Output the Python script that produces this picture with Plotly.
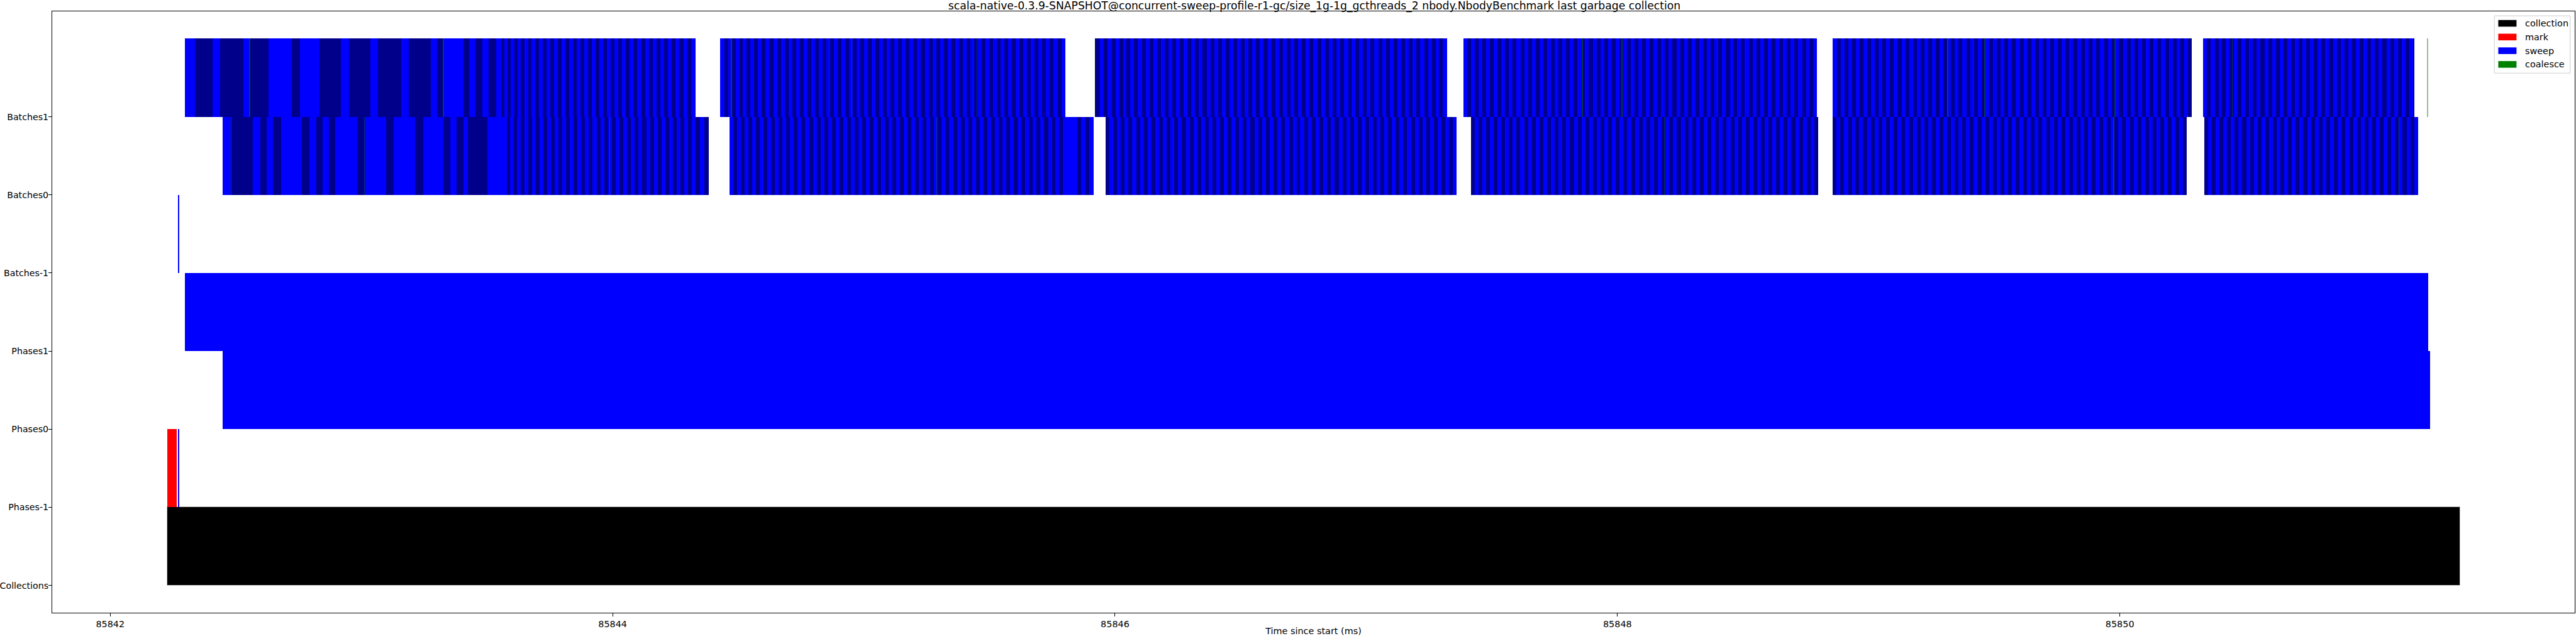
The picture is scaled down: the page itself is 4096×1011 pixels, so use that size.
import plotly.graph_objects as go

# ---------------- data ----------------
row_labels = ["Collections", "Phases-1", "Phases0", "Phases1", "Batches-1", "Batches0", "Batches1"]
x_tick_values = [85842, 85844, 85846, 85848, 85850]
title_text = ("scala-native-0.3.9-SNAPSHOT@concurrent-sweep-profile-r1-gc/size_1g-1g_gcthreads_2 "
              "nbody.NbodyBenchmark last garbage collection")

collection_start = [85842.226]
collection_dur = [9.130]

mark_start = [85842.227]
mark_dur = [0.037]

# sweep phases (row index, start ms, duration ms)
sweep_phase_row = [1, 4, 2, 3]
sweep_phase_start = [85842.2712, 85842.2712, 85842.448, 85842.2985]
sweep_phase_dur = [0.0022, 0.0022, 8.788, 8.9285]

# Batches1 row: group starts, colour of the first batch, batch durations (microseconds)
b1_group_start = [85842.2980, 85844.4282, 85845.9197, 85847.3864, 85848.8571, 85850.3317]
b1_group_first = ["blue", "blue", "navy", "blue", "blue", "blue"]
b1_group_dur_us = [
    [40, 70, 29, 92, 26, 74, 95, 32, 78, 83, 34, 84, 32, 91, 30, 88, 26, 25, 79, 22, 27, 26, 26, 30, 19, 13, 12,
     13, 14, 13, 14, 13, 15, 14, 15, 14, 15,
     15, 15, 16, 15, 15, 14, 15, 15, 16, 15,
     15, 15, 15, 16, 15, 15, 15, 14, 15, 15,
     16, 15, 15, 15, 15, 16, 15, 15, 15, 15,
     15, 15, 16, 15, 16, 15, 16, 15, 16, 16],
    [16, 15, 15, 15, 15, 15, 15, 15, 15, 15,
     15, 15, 15, 16, 15, 15, 15, 15, 15, 15,
     15, 15, 15, 15, 15, 16, 15, 15, 15, 15,
     15, 15, 15, 15, 15, 15, 15, 16, 15, 15,
     15, 14, 15, 15, 15, 15, 15, 15, 15, 16,
     15, 15, 15, 16, 15, 15, 15, 15, 15, 15,
     15, 15, 15, 15, 15, 15, 16, 15, 15, 15,
     15, 15, 15, 15, 16, 15, 15, 15, 15, 15,
     15, 15, 15, 15, 15, 15, 15, 15, 16, 15,
     16],
    [21, 15, 15, 16, 15, 15, 15, 14, 15, 15,
     15, 16, 15, 15, 15, 15, 16, 15, 15, 15,
     15, 15, 15, 16, 15, 15, 15, 15, 16, 15,
     15, 16, 15, 15, 15, 15, 15, 16, 15, 15,
     15, 15, 15, 15, 16, 15, 15, 15, 15, 16,
     15, 15, 16, 15, 15, 15, 15, 16, 15, 15,
     16, 15, 15, 15, 15, 16, 15, 15, 15, 15,
     15, 15, 15, 16, 15, 15, 15, 15, 16, 15,
     15, 15, 15, 15, 15, 16, 15, 15, 15, 15,
     15, 16],
    [15, 16, 15, 15, 15, 15, 15, 15, 16, 15,
     15, 15, 15, 15, 16, 15, 15, 15, 15, 15,
     16, 15, 15, 15, 15, 15, 15, 16, 15, 15,
     15, 15, 15, 16, 15, 15, 15, 15, 15, 15,
     15, 15, 16, 15, 15, 15, 15, 15, 16, 15,
     15, 15, 15, 15, 15, 16, 15, 15, 15, 15,
     15, 16, 15, 15, 15, 15, 15, 15, 15, 16,
     15, 15, 15, 15, 16, 15, 15, 15, 15, 15,
     15, 15, 15, 16, 15, 15, 15, 15, 16, 15,
     14, 14, 15],
    [16, 15, 15, 15, 15, 16, 15, 15, 15, 15,
     15, 15, 15, 16, 15, 15, 15, 16, 15, 15,
     15, 16, 15, 15, 15, 15, 16, 15, 15, 15,
     15, 15, 15, 15, 16, 15, 15, 15, 15, 16,
     15, 15, 16, 15, 15, 15, 15, 15, 16, 15,
     15, 16, 15, 15, 15, 16, 15, 15, 15, 15,
     15, 15, 15, 16, 15, 15, 15, 15, 16, 15,
     16, 15, 15, 15, 15, 16, 15, 15, 15, 15,
     15, 15, 15, 16, 15, 15, 16, 15, 15, 15,
     15, 15, 15, 15],
    [15, 15, 16, 15, 15, 15, 15, 16, 15, 15,
     15, 16, 15, 15, 15, 16, 15, 15, 15, 15,
     16, 15, 15, 15, 15, 15, 16, 15, 15, 15,
     15, 15, 15, 16, 15, 15, 15, 15, 16, 15,
     15, 16, 15, 15, 15, 15, 15, 16, 15, 15,
     16, 15, 16, 15, 15, 5],
]

# Batches0 row
b0_group_start = [85842.4483, 85844.4645, 85845.9624, 85847.4162, 85848.8571, 85850.3356]
b0_group_first = ["blue", "blue", "navy", "navy", "navy", "navy"]
b0_group_dur_us = [
    [32, 88, 29, 26, 25, 31, 84, 29, 27, 25, 26, 26, 86, 31, 84, 31, 86, 31, 82, 27, 25, 26, 19, 76, 79,
     13, 14, 14, 14, 15, 14, 15, 15, 15, 15,
     15, 16, 15, 15, 15, 16, 15, 15, 15, 15,
     15, 15, 15, 16, 15, 15, 15, 16, 15, 15,
     16, 15, 15, 15, 15, 15, 16, 15, 15, 15,
     15, 15, 16, 15, 15, 15, 15, 16, 15, 15,
     17, 17, 17],
    [15, 15, 15, 16, 15, 15, 15, 15, 15, 15,
     15, 15, 15, 15, 15, 16, 15, 15, 15, 15,
     16, 15, 15, 15, 15, 15, 15, 15, 15, 15,
     15, 15, 15, 15, 15, 15, 16, 15, 15, 15,
     15, 15, 16, 15, 15, 15, 15, 15, 15, 15,
     15, 15, 15, 15, 15, 15, 15, 15, 16, 15,
     15, 16, 15, 15, 15, 15, 15, 15, 15, 15,
     15, 15, 15, 15, 15, 16, 15, 15, 15, 15,
     15, 15, 15, 16, 15, 15, 15, 15,
     56, 16, 17, 16, 17],
    [15, 15, 16, 15, 15, 15, 15, 16, 15, 15,
     15, 16, 15, 15, 15, 15, 16, 15, 15, 15,
     16, 15, 15, 15, 15, 16, 15, 15, 15, 15,
     15, 15, 15, 16, 15, 15, 15, 15, 16, 15,
     15, 15, 16, 15, 15, 15, 15, 16, 15, 15,
     15, 16, 15, 15, 15, 15, 15, 16, 15, 15,
     16, 15, 15, 15, 15, 16, 15, 15, 15, 15,
     15, 15, 15, 15, 16, 15, 15, 15, 15, 16,
     15, 15, 16, 15, 15, 15, 15, 15, 16, 15,
     15, 15],
    [15, 16, 15, 15, 15, 15, 16, 15, 15, 15,
     15, 15, 15, 16, 15, 15, 15, 15, 16, 15,
     16, 15, 15, 15, 15, 15, 16, 15, 15, 15,
     15, 15, 16, 15, 15, 15, 15, 15, 16, 15,
     15, 16, 15, 15, 15, 16, 15, 15, 15, 15,
     15, 15, 15, 15, 16, 15, 15, 15, 15, 16,
     16, 15, 15, 15, 15, 15, 15, 16, 15, 15,
     15, 15, 16, 15, 15, 15, 16, 15, 15, 15,
     15, 15, 15, 15, 16, 15, 15, 15, 15, 16,
     15],
    [15, 15, 15, 16, 15, 15, 15, 15, 16, 15,
     16, 15, 15, 15, 15, 15, 15, 15, 15, 16,
     15, 15, 16, 15, 15, 15, 15, 15, 15, 15,
     15, 15, 15, 15, 15, 16, 15, 15, 16, 15,
     15, 16, 15, 15, 15, 15, 15, 15, 15, 15,
     16, 15, 15, 15, 15, 16, 15, 15, 15, 15,
     15, 15, 15, 15, 16, 15, 15, 15, 15, 15,
     15, 15, 16, 15, 15, 15, 15, 16, 15, 15,
     15, 15, 15, 15, 15, 15, 16, 15, 15, 15,
     15, 16, 15],
    [15, 15, 16, 15, 15, 15, 15, 16, 15, 15,
     16, 15, 15, 15, 15, 16, 15, 15, 15, 15,
     15, 15, 15, 16, 15, 15, 16, 15, 15, 15,
     15, 16, 15, 15, 15, 15, 15, 16, 15, 15,
     16, 15, 15, 15, 16, 15, 15, 15, 15, 15,
     15, 15, 16, 15, 15, 15],
]

# coalesce events (start ms) in the batch rows
b1_coalesce = [85842.5546, 85843.3255, 85844.472, 85844.952, 85845.450, 85847.860, 85848.018,
               85849.314, 85849.462, 85849.980, 85850.447, 85851.2245]
b0_coalesce = [85842.481, 85843.012, 85843.988, 85845.290, 85848.186, 85849.975, 85851.110]
coalesce_dur = 0.0012

# ---------------- styling ----------------
FONT = "DejaVu Sans"
COL = {"blue": "#0000ff", "navy": "#00008b"}
OTHER = {"blue": "navy", "navy": "blue"}

W, H = 4096, 1011
ML, MR, MT, MB = 83.3, 1.6, 17.6, 37.0

fig = go.Figure()


def hbar(rows, bases, durs, color, name, line=None, opacity=1.0):
    fig.add_trace(go.Bar(
        orientation="h", y=rows, x=durs, base=bases, width=1, offset=0,
        marker=dict(color=color, line=line or dict(width=0)), opacity=opacity,
        name=name, showlegend=False, hoverinfo="x+y",
    ))


# collection
hbar([0] * len(collection_start), collection_start, collection_dur, "#000000", "collection",
     line=dict(color="#d0d0d0", width=1))
# mark
hbar([1] * len(mark_start), mark_start, mark_dur, "#ff0000", "mark")
# sweep phases
hbar(sweep_phase_row, sweep_phase_start, sweep_phase_dur, "#0000ff", "sweep")

# sweep batches
bat = {"blue": ([], [], []), "navy": ([], [], [])}
for row, starts, firsts, groups in ((6, b1_group_start, b1_group_first, b1_group_dur_us),
                                    (5, b0_group_start, b0_group_first, b0_group_dur_us)):
    for s, first, durs in zip(starts, firsts, groups):
        t = s
        c = first
        for us in durs:
            d = us / 1000.0
            bat[c][0].append(row)
            bat[c][1].append(t)
            bat[c][2].append(d)
            t += d
            c = OTHER[c]
for c in ("blue", "navy"):
    hbar(bat[c][0], bat[c][1], bat[c][2], COL[c], "sweep")

# coalesce
hbar([6] * len(b1_coalesce) + [5] * len(b0_coalesce), b1_coalesce + b0_coalesce,
     [coalesce_dur] * (len(b1_coalesce) + len(b0_coalesce)), "#008000", "coalesce", opacity=0.45)

# ---------------- legend (drawn in paper coords) ----------------
PW = W - ML - MR
PH = H - MT - MB


def px(x):
    return (x - ML) / PW


def py(y):
    return 1 - (y - MT) / PH


legend_items = [("collection", "#000000"), ("mark", "#ff0000"), ("sweep", "#0000ff"), ("coalesce", "#008000")]
shapes = [dict(type="rect", xref="paper", yref="paper", x0=px(3966.6), x1=px(4087.1),
               y0=py(115.9), y1=py(24.8), line=dict(color="#cccccc", width=1),
               fillcolor="rgba(255,255,255,0.8)", layer="above")]
annotations = []
for i, (lab, col) in enumerate(legend_items):
    cy = 36.7 + i * 21.77
    shapes.append(dict(type="rect", xref="paper", yref="paper", x0=px(3972.8), x1=px(4001.8),
                       y0=py(cy + 5.3), y1=py(cy - 5.3), line=dict(width=0), fillcolor=col, layer="above"))
    annotations.append(dict(xref="paper", yref="paper", x=px(4013.2), y=py(cy), text=lab,
                            showarrow=False, xanchor="left", yanchor="middle",
                            font=dict(family=FONT, size=14.4, color="black")))

fig.update_layout(
    width=W, height=H,
    margin=dict(l=ML, r=MR, t=MT, b=MB, pad=0),
    paper_bgcolor="white", plot_bgcolor="white",
    barmode="overlay", bargap=0,
    showlegend=False,
    font=dict(family=FONT, size=14.4, color="black"),
    title=dict(text=title_text, x=(2090) / W, xanchor="center", y=1 - 9.0 / H, yanchor="middle",
               font=dict(family=FONT, size=17.2, color="black")),
    xaxis=dict(range=[85841.769, 85851.811], tickvals=x_tick_values,
               ticktext=[str(v) for v in x_tick_values],
               showgrid=False, zeroline=False, showline=True, mirror=True,
               linecolor="black", linewidth=1.1, ticks="outside", ticklen=5, tickwidth=1.1,
               tickcolor="black", tickfont=dict(family=FONT, size=14.4, color="black"),
               title=dict(text="Time since start (ms)", standoff=2,
                          font=dict(family=FONT, size=14.4, color="black")),
               automargin=False),
    yaxis=dict(range=[-0.35, 7.35], tickvals=list(range(len(row_labels))), ticktext=row_labels,
               showgrid=False, zeroline=False, showline=True, mirror=True,
               linecolor="black", linewidth=1.1, ticks="outside", ticklen=5, tickwidth=1.1,
               tickcolor="black", tickfont=dict(family=FONT, size=14.2, color="black"),
               ticklabelstandoff=-3, automargin=False),
    shapes=shapes, annotations=annotations,
)

fig.write_html(
    "out.html",
    config={"displayModeBar": False},
    post_script="document.body.style.margin='0';document.body.style.padding='0';"
                "document.documentElement.style.overflow='hidden';",
)
